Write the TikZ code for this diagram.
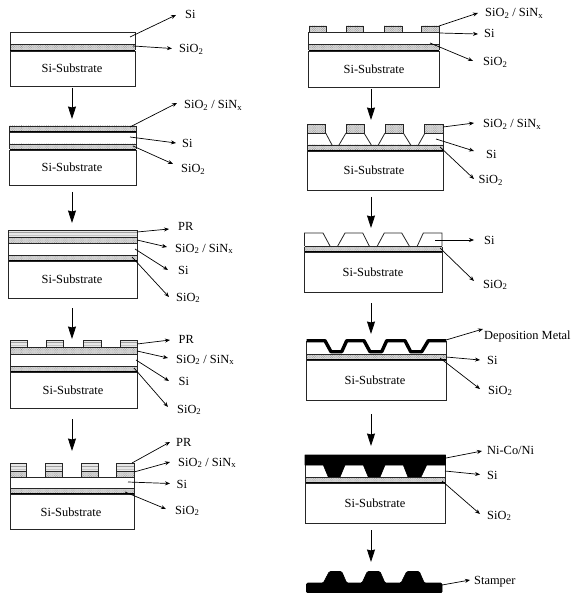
\documentclass[tikz,border=0pt]{standalone}
\usepackage{fontspec}
\setmainfont{Liberation Serif}
\usetikzlibrary{arrows.meta,patterns.meta}
\newcommand{\SiOt}{SiO\textsubscript{2}}
\newcommand{\SiON}{SiO\textsubscript{2} / SiN\textsubscript{x}}
% lead line with a named start, a named end and a named label
\newcommand{\lead}[5]{%
  \coordinate (#1s) at (#2);
  \coordinate (#1e) at (#3);
  \node[lab] (#1) at (#4) {#5};
  \draw[leadline] (#1s) -- (#1e);}
\newcommand{\stepdown}[4]{%
  \coordinate (#1a) at (#2,#3);
  \coordinate (#1b) at (#2,#4);
  \draw[flow] (#1a) -- (#1b);}
\newcommand{\subbox}[6]{% name x1 x2 y1 y2 text-x
  \pgfmathsetmacro{\panelW}{#3-#2}\pgfmathsetmacro{\panelH}{#5-#4}
  \pgfmathsetmacro{\panelX}{(#3+#2)/2}\pgfmathsetmacro{\panelY}{(#5+#4)/2}
  \node[substr,minimum width=\panelW pt,minimum height=\panelH pt] (#1) at (\panelX,\panelY) {};
  \node[subtext] (#1t) at (#6,\panelY) {Si-Substrate};}
\newcommand{\ox}[4]{% x1 x2 y1 y2
  \fill[oxfill] (#1,#3) rectangle (#2,#4);
  \fill[oxdots] (#1,#3) rectangle (#2,#4);
  \draw[edge] (#1,#3) -- (#2,#3);
  \draw[heavy] (#1,#4) -- (#2,#4);
  \draw[edge] (#1,#3) -- (#1,#4) (#2,#3) -- (#2,#4);}
\newcommand{\oxp}[4]{% pad version of oxide, thin box
  \fill[oxfill] (#1,#3) rectangle (#2,#4);
  \fill[oxdots] (#1,#3) rectangle (#2,#4);
  \draw[edge] (#1,#3) rectangle (#2,#4);}
\newcommand{\prl}[4]{% x1 x2 y1 y2
  \fill[gray!18] (#1,#3) rectangle (#2,#4);
  \draw[gray!75,line width=.7pt] (#1,{(#3+#4)/2-1.2}) -- (#2,{(#3+#4)/2-1.2});
  \draw[gray!45,line width=.6pt] (#1,{(#3+#4)/2+1.6}) -- (#2,{(#3+#4)/2+1.6});
  \draw[edge] (#1,#3) rectangle (#2,#4);}
\tikzset{
  x=1pt,y=-1pt,
  lab/.style={anchor=base west,inner sep=0pt,font=\fontsize{12.4}{14}\selectfont},
  subtext/.style={inner sep=0pt,font=\fontsize{12.4}{14}\selectfont},
  leadline/.style={line width=.7pt,draw=black,-{Stealth[length=5pt,width=4pt]}},
  flow/.style={line width=.8pt,draw=black,-{Stealth[length=12.5pt,width=8pt,inset=1pt]}},
  substr/.style={draw=black!85,line width=.8pt,inner sep=0pt,fill=white},
  edge/.style={draw=black!85,line width=.8pt},
  heavy/.style={draw=black,line width=1.4pt},
  oxfill/.style={fill=gray!32},
  oxdots/.style={pattern={Dots[distance=1.6pt,radius=.36pt,angle=45]},pattern color=black!55},
  metal/.style={draw=black,line width=3.4pt,line join=round},
  solidm/.style={fill=black,draw=black,line width=.6pt,line join=round},
}
\begin{document}
\begin{tikzpicture}
\useasboundingbox (0,0) rectangle (571,593);
% ---------- L1
\draw[edge] (10,32) rectangle (135,44.5);
\ox{10}{135}{44.5}{50.5}
\subbox{sa}{10}{135}{51}{86}{72}
\lead{a1}{130,37}{176,15}{185,19}{Si}
\lead{a2}{133,46}{172,48.5}{179,53}{\SiOt}
\stepdown{fa}{72}{88}{119}
% ---------- L2
\ox{9.5}{136}{126}{132}
\draw[edge] (9.5,132) rectangle (136,144);
\ox{9.5}{136}{144}{149.5}
\subbox{sb}{9.5}{136}{150}{185}{72}
\lead{b1}{130,127}{177,103}{184,109}{\SiON}
\lead{b2}{130,137}{176,143}{182,148}{Si}
\lead{b3}{133,146}{173,164}{181,173}{\SiOt}
\stepdown{fb}{72}{192}{223}
% ---------- L3
\prl{8.5}{137}{230}{237.5}
\oxp{8.5}{137}{237.5}{243}
\draw[edge] (8.5,243) rectangle (137,255.5);
\ox{8.5}{137}{255.5}{261}
\subbox{sc}{8.5}{137}{261.5}{298}{72}
\lead{c1}{137,232}{169,229}{178,231}{PR}
\lead{c2}{137,240}{167,247}{175,252}{\SiON}
\lead{c3}{135,249}{168,270}{178,274}{Si}
\lead{c4}{132,257}{169,297}{176,301}{\SiOt}
\stepdown{fc}{72}{308}{339}
% ---------- L4
\prl{10}{27}{340.5}{347.5}
\prl{46.5}{63.5}{340.5}{347.5}
\prl{83.5}{101.5}{340.5}{347.5}
\prl{120}{137}{340.5}{347.5}
\oxp{10}{137}{347.5}{354}
\draw[edge] (10,354) rectangle (137,366);
\ox{10}{137}{366}{371.5}
\subbox{sd}{10}{137}{372}{408}{73}
\lead{d1}{137,344}{170,340}{178.5,343}{PR}
\lead{d2}{137,351}{168,358}{176,363}{\SiON}
\lead{d3}{136,360}{169,381}{178.5,385}{Si}
\lead{d4}{134,368}{168,407}{177,413}{\SiOt}
\stepdown{fd}{72}{419}{451}
% ---------- L5
\foreach \xa/\xb in {10/26.5,45/62,81.5/98.5,116.5/134}{
  \prl{\xa}{\xb}{463.5}{471}
  \oxp{\xa}{\xb}{471}{477}
}
\draw[edge] (10,477) rectangle (134,488.5);
\ox{10}{134}{488.5}{494}
\subbox{se}{10}{134}{494.5}{529.5}{71}
\lead{e1}{132,463}{170,442}{176,446.5}{PR}
\lead{e2}{134,472}{170,462}{178,466}{\SiON}
\lead{e3}{128,482}{170,483.5}{176.5,488}{Si}
\lead{e4}{125,492}{166,509}{175,514}{\SiOt}
% ---------- R1
\foreach \xa/\xb in {309/326,346/363.5,384/402,421/439}{
  \oxp{\xa}{\xb}{26}{32}
}
\draw[edge] (308.5,32.5) rectangle (439,44.5);
\ox{308.5}{439}{44.5}{50.5}
\subbox{sf}{308.5}{439}{51}{87}{374}
\lead{f1}{439,26}{478,13}{485,17}{\SiON}
\lead{f2}{439,33}{478,34}{484,38}{Si}
\lead{f3}{430,43}{473,61}{483,66}{\SiOt}
\stepdown{ff}{371}{89}{120}
% ---------- R2
\foreach \xa/\xb in {307/325,346/364.5,385/403.5,424/443}{
  \oxp{\xa}{\xb}{124.5}{133}
}
\draw[edge] (307,133) -- (307,145) (443,133) -- (443,145);
\draw[edge] (325.7,133) -- (332,145) (339,145) -- (346,133)
            (364,133) -- (371.3,145) (378.3,145) -- (385,133)
            (403.3,133) -- (410.7,145) (418.3,145) -- (425,133);
\ox{307}{443}{145}{151}
\subbox{sg}{307}{443}{151.5}{190}{374}
\lead{g1}{443,127}{474,123}{483,128}{\SiON}
\lead{g2}{436,139}{474,151}{486,159}{Si}
\lead{g3}{440,147}{474,179}{478.5,184}{\SiOt}
\stepdown{fg}{371}{197}{228}
% ---------- R3
\draw[edge] (304.5,246) -- (304.5,233) -- (323,233) -- (330,246)
            (337.7,246) -- (345,233) -- (362.7,233) -- (369.3,246)
            (377.3,246) -- (384.3,233) -- (401.7,233) -- (409.3,246)
            (417.3,246) -- (423.3,233) -- (442,233) -- (442,246);
\ox{304.5}{442}{246.5}{252}
\subbox{sh}{304.5}{442}{252.5}{292}{373}
\lead{h1}{435,240}{474,240}{484,244}{Si}
\lead{h2}{440,248}{474,281}{483,288}{\SiOt}
\stepdown{fh}{371}{303}{334}
% ---------- R4
\draw[edge] (306.5,341) -- (306.5,354) (446,341) -- (446,354);
\draw[metal] (306.5,340.7) -- (325,340.7) -- (331,351.7) -- (341.7,351.7) -- (346.7,340.7)
  -- (364,340.7) -- (370,351.7) -- (381.7,351.7) -- (386.7,340.7)
  -- (405,340.7) -- (410.7,351.7) -- (421.7,351.7) -- (428.3,340.7) -- (446,340.7);
\ox{306.5}{446}{354}{360}
\subbox{si}{306.5}{446}{360.5}{400.5}{375}
\lead{i1}{446,340}{483,329}{484,339}{Deposition Metal}
\lead{i2}{446,357}{480,360}{487,364}{Si}
\lead{i3}{440,358}{480,389}{488,394}{\SiOt}
\stepdown{fi}{371}{414}{446}
% ---------- R5
\draw[edge] (305,465) -- (305,477) (445.5,465) -- (445.5,477);
\draw[solidm] (305,455) -- (445.5,455) -- (445.5,465) -- (426.7,465) -- (421,477) -- (408,477)
  -- (403.3,465) -- (385,465) -- (380,477) -- (368.3,477) -- (363.3,465) -- (345,465)
  -- (340,477) -- (328.3,477) -- (323.3,465) -- (305,465) -- cycle;
\ox{305}{445.5}{477.3}{482.7}
\subbox{sj}{305}{445.5}{483}{523}{375}
\lead{j1}{446,458}{482,451}{487,454}{Ni-Co/Ni}
\lead{j2}{445,471}{480,474.5}{487,479}{Si}
\lead{j3}{442,481}{480,514}{487,519}{\SiOt}
\stepdown{fj}{371}{530}{562}
% ---------- Stamper
\draw[solidm,rounded corners=1.2pt] (306.5,593) -- (306.5,583) -- (323.3,583) -- (329.3,571.5) -- (341.7,571.5)
  -- (346.7,583) -- (362,583) -- (367.3,571.5) -- (380,571.5) -- (385,583) -- (401,583)
  -- (406.7,571.5) -- (419.3,571.5) -- (424.3,583) -- (442,583) -- (442,593) -- cycle;
\lead{k1}{442,585}{470,580}{474,584}{Stamper}
\end{tikzpicture}
\end{document}
